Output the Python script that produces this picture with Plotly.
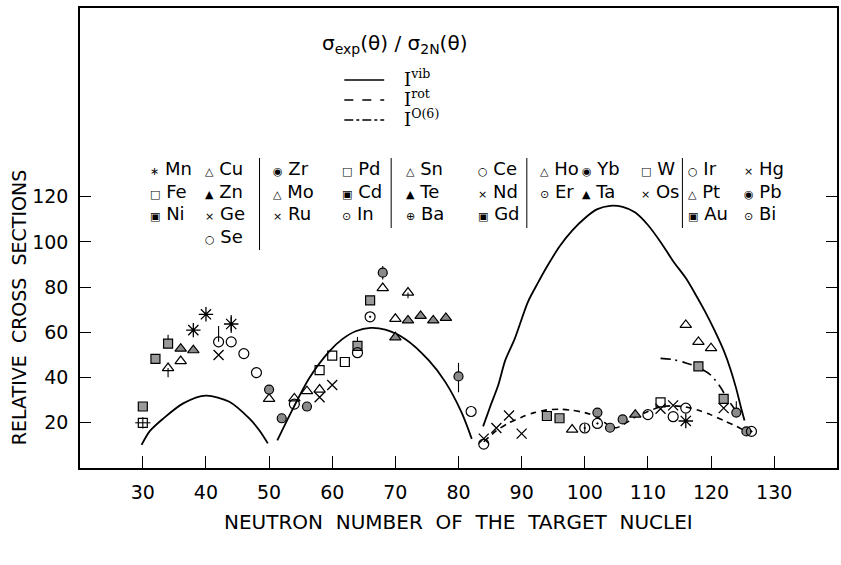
import plotly.graph_objects as go

# ---------------- data ----------------
vib1_N = [29.8, 31.1, 33.2, 36.4, 40.0, 43.7, 46.9, 48.5, 49.8]
vib1_R = [10.2, 16.3, 21.8, 28.6, 32.0, 29.3, 21.8, 16.5, 10.9]

vib2_N = [51.3, 53.7, 56.3, 59.5, 61.6, 63.7, 66.1, 68.4, 71.6, 75.3, 77.9, 80.5, 82.1]
vib2_R = [12.2, 25.8, 39.5, 51.5, 57.0, 60.5, 62.0, 61.2, 57.0, 47.6, 38.1, 24.5, 12.9]

vib3_N = [83.9, 85.0, 86.3, 87.4, 88.9, 91.0, 92.6, 94, 96, 98, 100, 102, 104, 106, 108,
          110, 112, 114, 116, 117.5, 119, 120.5, 122, 123.1, 124, 124.7, 125.3]
vib3_R = [18.4, 27.0, 36.7, 47.6, 57.1, 73.5, 82.0, 89, 98, 105, 110.5, 114.5, 116, 115.5, 113,
          107.5, 100, 91.5, 84, 77, 69.5, 61.2, 52, 43.5, 35, 27.2, 21.0]

rot_N = [84, 86, 88, 90, 92, 94, 96, 98, 100, 102, 103, 104, 105, 106, 108, 110, 112, 114,
         116, 118, 120, 122, 124, 125]
rot_R = [11.6, 16.5, 20, 22.5, 24.5, 25.7, 26, 25.5, 24.5, 22.5, 20.5, 18.5, 17.8, 19, 22.5,
         25, 27, 27.5, 27, 25.5, 23.5, 21, 18.5, 17]

o6_N = [112, 114, 116, 118, 120, 121.5, 122.5, 123.5, 124.3]
o6_R = [48.5, 48, 46.5, 44.5, 41, 35.7, 31, 27, 24]

star_N = [38, 40, 44, 116]
star_R = [61, 68, 63.7, 20.8]
star_ep = [0, 0, 4, 0]
star_em = [0, 0, 4, 0]

sqo_N = [30, 58, 60, 62, 112]
sqo_R = [20, 43.3, 49.7, 46.9, 29]
sqo_ep = [2.5, 0, 0, 0, 0]
sqo_em = [2.5, 0, 0, 0, 0]
sqo_ex = [1.2, 0, 0, 0, 0]

sqh_N = [30, 32, 34, 64, 66, 94, 96, 118, 122]
sqh_R = [27.2, 48.3, 55, 54, 74.2, 23, 22, 45, 30.6]
sqh_ep = [0, 0, 4, 4, 0, 0, 0, 0, 0]
sqh_em = [0, 0, 0, 0, 0, 0, 0, 0, 0]

tro_N = [34, 36, 50, 54, 56, 58, 68, 70, 72, 98, 116, 118, 120]
tro_R = [44.2, 47.3, 30.6, 30.8, 34, 34.7, 79.6, 66, 77.6, 17, 63.3, 55.8, 53]
tro_ep = [0] * 13
tro_em = [4, 0, 0, 0, 0, 0, 0, 0, 2.5, 0, 0, 0, 0]

trf_N = [36, 38, 70, 72, 74, 76, 78, 108]
trf_R = [52.8, 52.1, 57.8, 65.3, 67.3, 65.3, 66.4, 23.6]

crs_N = [42, 58, 60, 84, 86, 88, 90, 112, 114, 122]
crs_R = [50, 31.3, 36.7, 13, 17.7, 23.2, 15.2, 26.2, 27.7, 26.5]

cio_N = [42, 44, 46, 48, 54, 64, 82, 84, 110, 114, 116]
cio_R = [55.8, 55.8, 50.6, 42.2, 28.3, 51, 25, 10.6, 23.6, 22.7, 26.5]
cio_ep = [7, 0, 0, 0, 0, 0, 0, 0, 0, 0, 0]
cio_em = [0] * 11

cif_N = [50, 52, 56, 68, 80, 102, 104, 106, 124, 125.6]
cif_R = [34.7, 22, 27.2, 86.4, 40.5, 24.5, 17.8, 21.5, 24.5, 16.2]
cif_ep = [0, 0, 0, 3, 6, 0, 0, 0, 5, 0]
cif_em = [0, 0, 0, 3, 7, 0, 0, 0, 0, 0]

cid_N = [66, 100, 102, 126.4]
cid_R = [66.9, 17.7, 19.7, 16.2]
cid_ep = [0, 2, 0, 0]
cid_em = [0, 2, 0, 0]

x_ticks = [30, 40, 50, 60, 70, 80, 90, 100, 110, 120, 130]
y_ticks = [20, 40, 60, 80, 100, 120]

legend_rows = [
    # (symbol, name, column x px, row index)
    ("∗", "Mn", 148, 0), ("□", "Fe", 148, 1), ("▣", "Ni", 148, 2),
    ("△", "Cu", 203, 0), ("▲", "Zn", 203, 1), ("×", "Ge", 203, 2), ("○", "Se", 203, 3),
    ("◉", "Zr", 272, 0), ("△", "Mo", 272, 1), ("×", "Ru", 272, 2),
    ("□", "Pd", 341, 0), ("▣", "Cd", 341, 1), ("⊙", "In", 341, 2),
    ("△", "Sn", 405, 0), ("▲", "Te", 405, 1), ("⊕", "Ba", 405, 2),
    ("○", "Ce", 477, 0), ("×", "Nd", 477, 1), ("▣", "Gd", 477, 2),
    ("△", "Ho", 539, 0), ("⊙", "Er", 539, 1),
    ("◉", "Yb", 581, 0), ("▲", "Ta", 581, 1),
    ("□", "W", 640, 0), ("×", "Os", 640, 1),
    ("○", "Ir", 688, 0), ("△", "Pt", 688, 1), ("▣", "Au", 688, 2),
    ("×", "Hg", 744, 0), ("◉", "Pb", 744, 1), ("⊙", "Bi", 744, 2),
]

# ---------------- geometry helpers (decorations only, page pixels) ----------------
W, H = 841, 565
L, R, T, B = 80, 839, 8, 468


def px(x):
    return (x - L) / (R - L)


def py(y):
    return (B - y) / (B - T)


FONT = "DejaVu Sans"
fig = go.Figure()

for n, r, dash, w in [(vib1_N, vib1_R, "solid", 1.8), (vib2_N, vib2_R, "solid", 1.8),
                      (vib3_N, vib3_R, "solid", 1.8), (rot_N, rot_R, "6px,5px", 1.6),
                      (o6_N, o6_R, "10px,5px,2px,5px", 1.6)]:
    fig.add_trace(go.Scatter(x=n, y=r, mode="lines",
                             line=dict(color="black", width=w, dash=dash,
                                       shape="spline", smoothing=0.8),
                             showlegend=False, hoverinfo="skip"))


def err(ep, em):
    return dict(type="data", array=ep, arrayminus=em, visible=True, color="black",
                thickness=1.1, width=0)


def add_pts(n, r, symbol, fill="black", size=9, ep=None, em=None, ex=None, lw=1.2):
    kw = {}
    if ep is not None:
        kw["error_y"] = err(ep, em)
    if ex is not None:
        kw["error_x"] = dict(type="data", array=ex, visible=True, color="black",
                             thickness=1.1, width=0)
    fig.add_trace(go.Scatter(x=n, y=r, mode="markers",
                             marker=dict(symbol=symbol, size=size, color=fill,
                                         line=dict(color="black", width=lw)),
                             showlegend=False, **kw))


add_pts(star_N, star_R, "asterisk-open", size=12, ep=star_ep, em=star_em, lw=1.3)
add_pts(sqo_N, sqo_R, "square-open", ep=sqo_ep, em=sqo_em, ex=sqo_ex)
add_pts(sqh_N, sqh_R, "square", fill="#9a9a9a", ep=sqh_ep, em=sqh_em)
add_pts(tro_N, tro_R, "triangle-up-open", size=10, ep=tro_ep, em=tro_em)
add_pts(trf_N, trf_R, "triangle-up", fill="#8a8a8a", size=10)
add_pts(crs_N, crs_R, "x-thin-open", size=10, lw=1.3)
add_pts(cio_N, cio_R, "circle-open", size=10, ep=cio_ep, em=cio_em)
add_pts(cif_N, cif_R, "circle", fill="#8a8a8a", ep=cif_ep, em=cif_em)
add_pts(cid_N, cid_R, "circle-open-dot", size=10, ep=cid_ep, em=cid_em)

ann = []
shapes = []

# curve legend
ann.append(dict(x=px(395), y=py(44), xref="paper", yref="paper", showarrow=False,
                xanchor="center", yanchor="middle",
                text="σ<sub>exp</sub>(θ) / σ<sub>2N</sub>(θ)",
                font=dict(family=FONT, size=20, color="black")))
for i, (lab, dash) in enumerate([("vib", "solid"), ("rot", "dash"), ("O(6)", "dashdot")]):
    yy = [80, 100, 120][i]
    shapes.append(dict(type="line", xref="paper", yref="paper", x0=px(345), x1=px(385),
                       y0=py(yy), y1=py(yy), line=dict(color="black", width=1.6, dash=dash)))
    ann.append(dict(x=px(403), y=py(yy - 2), xref="paper", yref="paper", showarrow=False,
                    xanchor="left", yanchor="middle", text="I<sup>" + lab + "</sup>",
                    font=dict(family="DejaVu Serif", size=18, color="black")))

# element legend
row_y = [168, 191, 213, 236]
for sym, name, cx, row in legend_rows:
    ann.append(dict(x=px(cx), y=py(row_y[row]), xref="paper", yref="paper", showarrow=False,
                    xanchor="left", yanchor="middle",
                    text="<span style='font-size:11px'>" + sym + "</span> " + name,
                    font=dict(family=FONT, size=18, color="black")))
for sx, y0, y1 in [(260, 158, 250), (392, 158, 228), (528, 158, 228), (684, 158, 228)]:
    shapes.append(dict(type="line", xref="paper", yref="paper", x0=px(sx), x1=px(sx),
                       y0=py(y0), y1=py(y1), line=dict(color="black", width=1)))

# axis titles
ann.append(dict(x=px(19), y=py(308), xref="paper", yref="paper", showarrow=False,
                xanchor="center", yanchor="middle",
                text="RELATIVE  CROSS  SECTIONS", textangle=-90,
                font=dict(family=FONT, size=19, color="black")))
ann.append(dict(x=px(459), y=py(522), xref="paper", yref="paper", showarrow=False,
                xanchor="center", yanchor="middle",
                text="NEUTRON  NUMBER  OF  THE  TARGET  NUCLEI",
                font=dict(family=FONT, size=20, color="black")))

fig.update_layout(
    width=W, height=H, margin=dict(l=L, r=W - R, t=T, b=H - B),
    paper_bgcolor="white", plot_bgcolor="white",
    annotations=ann, shapes=shapes,
    xaxis=dict(range=[20.05, 139.95], tickvals=x_ticks, ticks="inside", ticklen=12,
               tickwidth=1.2, tickcolor="black", showline=True, linecolor="black",
               linewidth=1.6, mirror=True, showgrid=False, zeroline=False,
               ticklabelstandoff=6,
               tickfont=dict(family=FONT, size=19, color="black")),
    yaxis=dict(range=[0, 203.5], tickvals=y_ticks, ticks="inside", ticklen=11,
               tickwidth=1.2, tickcolor="black", showline=True, linecolor="black",
               linewidth=1.6, mirror="ticks", showgrid=False, zeroline=False,
               ticklabelstandoff=6,
               tickfont=dict(family=FONT, size=19, color="black")),
)

fig.write_html("out.html",
               config={"displayModeBar": False},
               post_script="document.body.style.margin='0px';"
                           "document.body.style.overflow='hidden';")
